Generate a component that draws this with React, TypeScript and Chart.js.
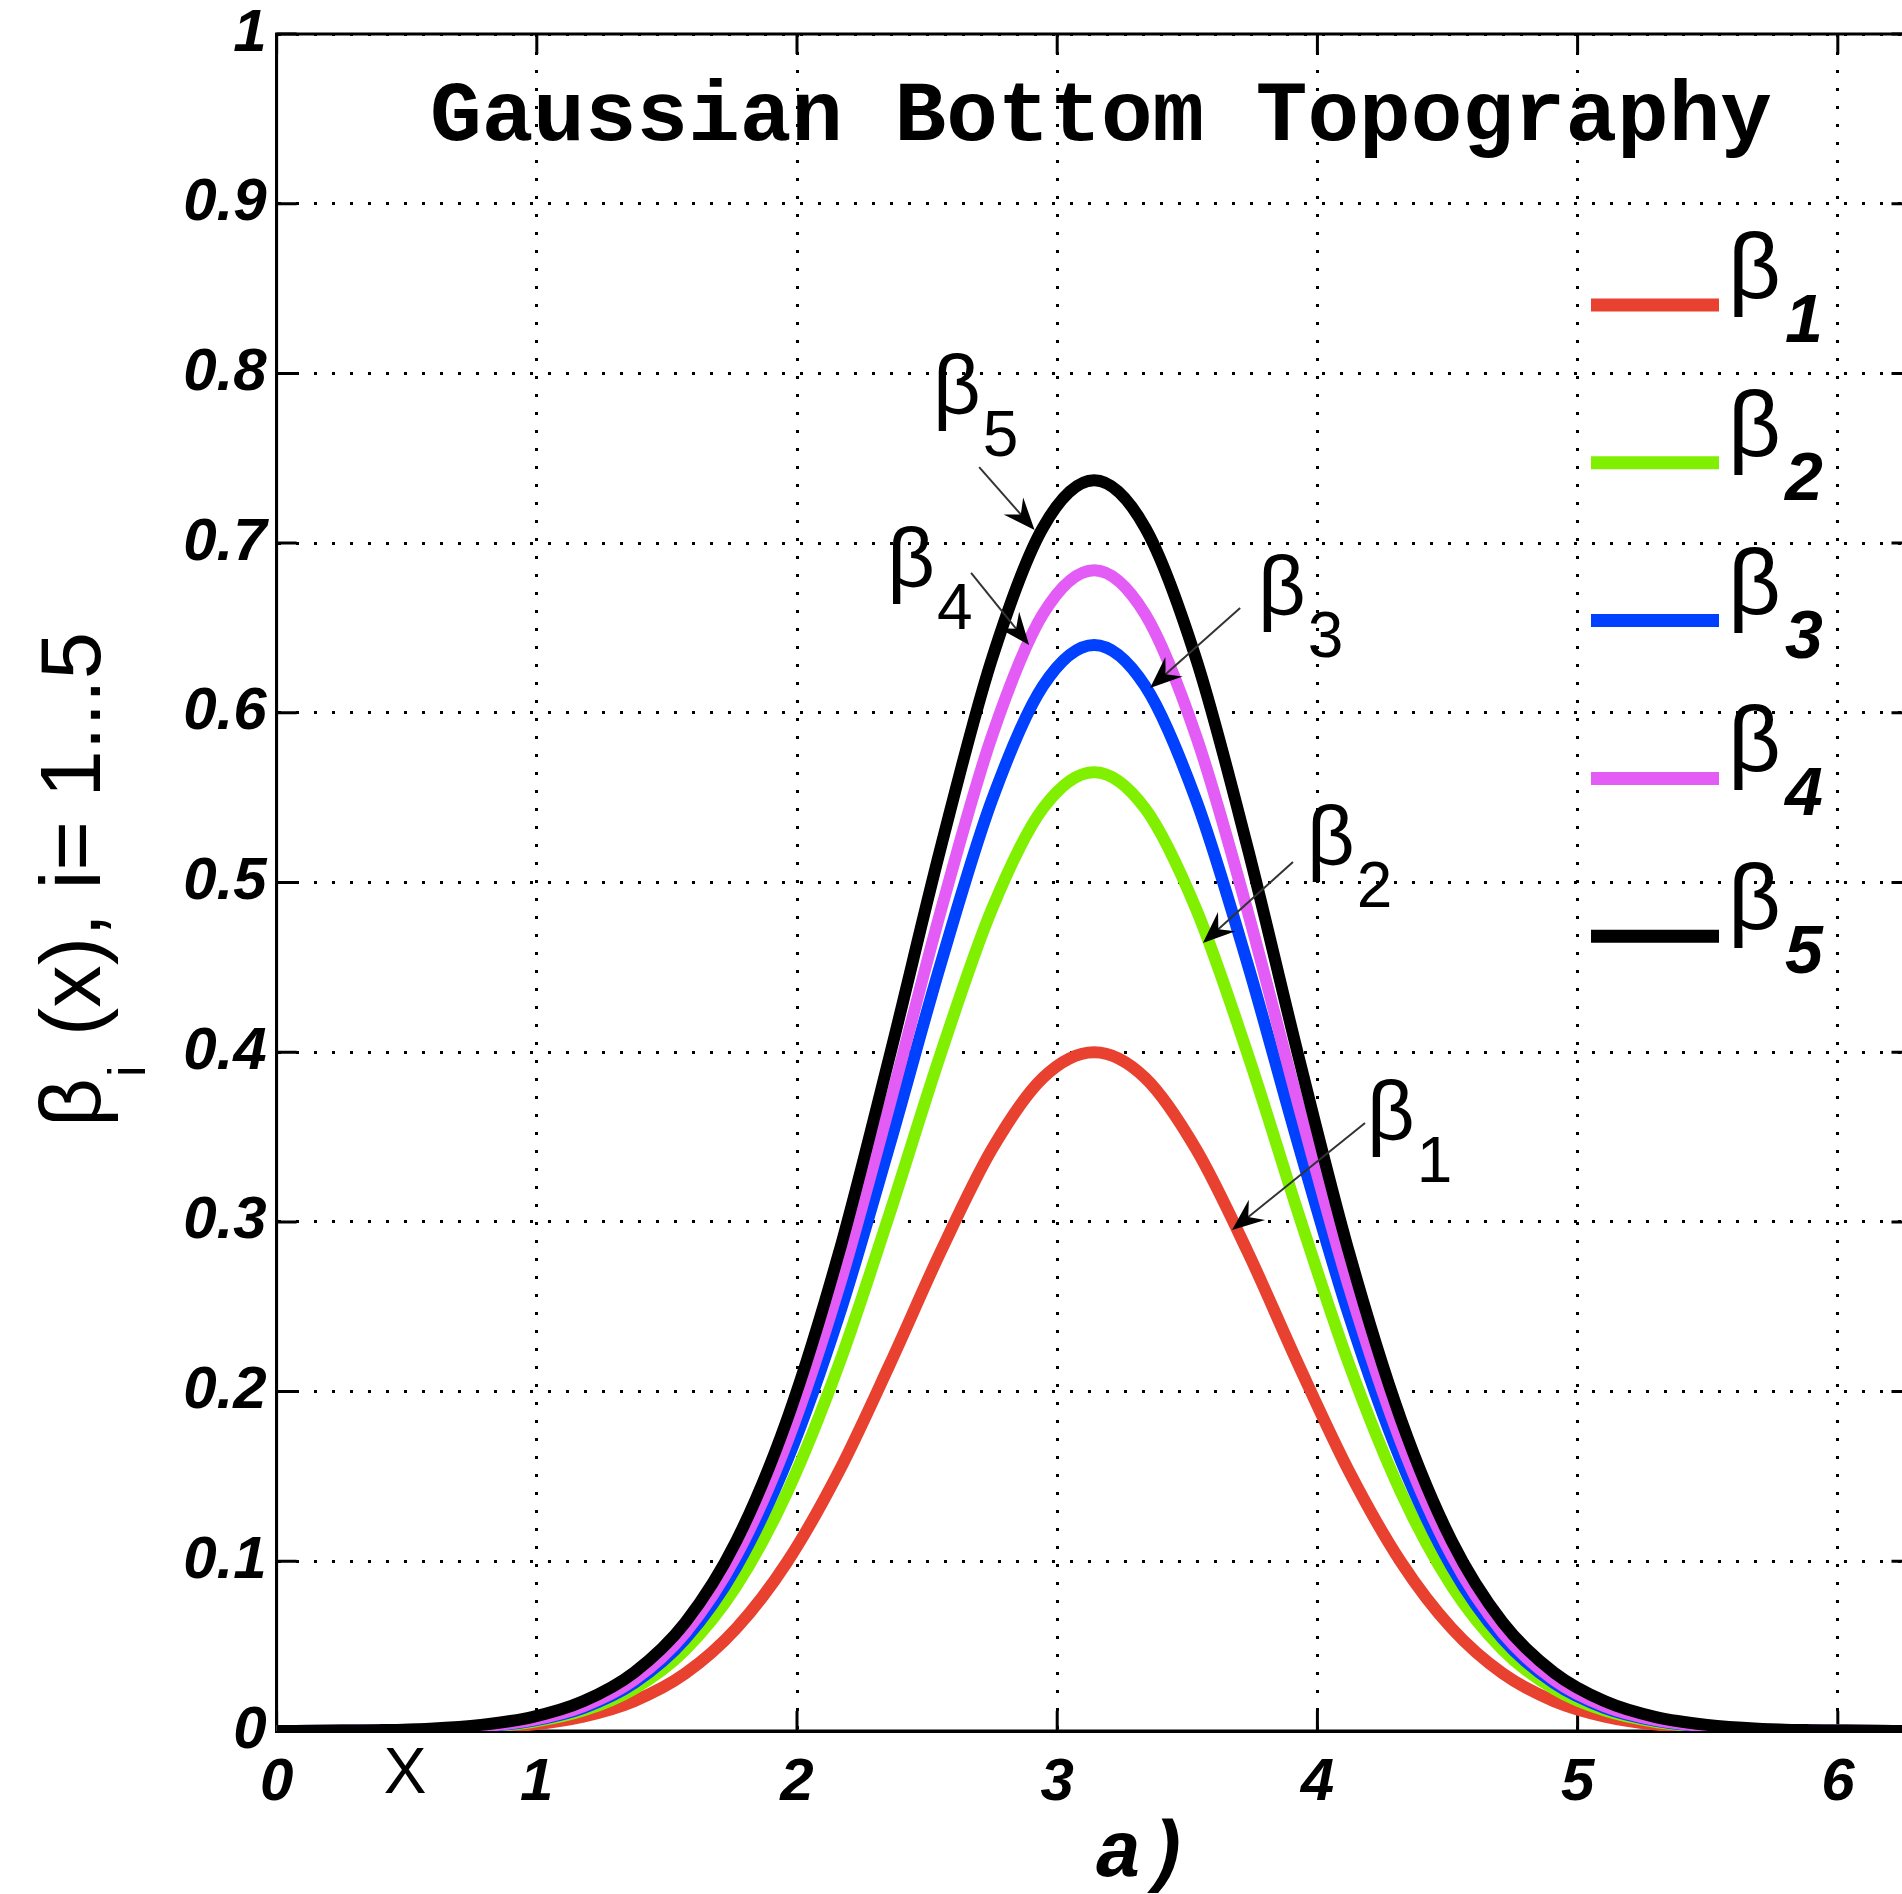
import React, { useEffect, useRef } from 'react';
import { Chart, registerables } from 'chart.js';

Chart.register(...registerables);

// ---------- data ----------
const X_VALUES = [0, 0.196, 0.393, 0.589, 0.785, 0.982, 1.178, 1.374, 1.571, 1.767, 1.963, 2.16, 2.356, 2.553, 2.749, 2.945, 3.142, 3.338, 3.534, 3.731, 3.927, 4.123, 4.32, 4.516, 4.712, 4.909, 5.105, 5.301, 5.498, 5.694, 5.89, 6.087, 6.283];

const BETA_1 = [0, 0.0001, 0.0002, 0.0006, 0.0016, 0.0038, 0.0085, 0.0176, 0.0339, 0.0605, 0.0998, 0.1526, 0.2159, 0.2827, 0.3428, 0.3849, 0.4, 0.3849, 0.3428, 0.2827, 0.2159, 0.1526, 0.0998, 0.0605, 0.0339, 0.0176, 0.0085, 0.0038, 0.0016, 0.0006, 0.0002, 0.0001, 0];
const BETA_2 = [0, 0.0001, 0.0003, 0.0008, 0.0022, 0.0053, 0.012, 0.0249, 0.0479, 0.0854, 0.141, 0.2155, 0.3049, 0.3994, 0.4843, 0.5436, 0.565, 0.5436, 0.4843, 0.3994, 0.3049, 0.2155, 0.141, 0.0854, 0.0479, 0.0249, 0.012, 0.0053, 0.0022, 0.0008, 0.0003, 0.0001, 0];
const BETA_3 = [0, 0.0001, 0.0003, 0.0009, 0.0025, 0.006, 0.0135, 0.0282, 0.0543, 0.0968, 0.1597, 0.2441, 0.3454, 0.4524, 0.5485, 0.6158, 0.64, 0.6158, 0.5485, 0.4524, 0.3454, 0.2441, 0.1597, 0.0968, 0.0543, 0.0282, 0.0135, 0.006, 0.0025, 0.0009, 0.0003, 0.0001, 0];
const BETA_4 = [0, 0.0001, 0.0004, 0.001, 0.0027, 0.0064, 0.0145, 0.0301, 0.058, 0.1034, 0.1707, 0.2609, 0.3691, 0.4835, 0.5862, 0.6581, 0.684, 0.6581, 0.5862, 0.4835, 0.3691, 0.2609, 0.1707, 0.1034, 0.058, 0.0301, 0.0145, 0.0064, 0.0027, 0.001, 0.0004, 0.0001, 0];
const BETA_5 = [0, 0.0002, 0.0005, 0.0014, 0.0036, 0.0082, 0.0175, 0.0345, 0.064, 0.112, 0.184, 0.2811, 0.3977, 0.5209, 0.6317, 0.7091, 0.737, 0.7091, 0.6317, 0.5209, 0.3977, 0.2811, 0.184, 0.112, 0.064, 0.0345, 0.0175, 0.0082, 0.0036, 0.0014, 0.0005, 0.0002, 0];

const SERIES_VALUES = [BETA_1, BETA_2, BETA_3, BETA_4, BETA_5];
const SERIES_SUBSCRIPTS = ['1', '2', '3', '4', '5'];
const SERIES_COLORS = ['#e8412f', '#80f000', '#0040ff', '#e35cf5', '#000000'];

const X_TICKS = [0, 1, 2, 3, 4, 5, 6];
const X_TICK_LABELS = ['0', '1', '2', '3', '4', '5', '6'];
const Y_TICKS = [0, 0.1, 0.2, 0.3, 0.4, 0.5, 0.6, 0.7, 0.8, 0.9, 1];
const Y_TICK_LABELS = ['0', '0.1', '0.2', '0.3', '0.4', '0.5', '0.6', '0.7', '0.8', '0.9', '1'];

const X_MIN = 0;
const X_MAX = 6.2832;
const Y_MIN = 0;
const Y_MAX = 1;

const TITLE_TEXT = 'Gaussian Bottom Topography';
const X_LABEL_TEXT = 'a)';
const X_MARK_TEXT = 'X';
const Y_LABEL_MAIN = 'β';
const Y_LABEL_SUB = 'i';
const Y_LABEL_REST = ' (x), i= 1...5';
const GREEK = 'β';

// annotation anchors (data coordinates)
const ANNOT_SUBS = ['5', '4', '3', '2', '1'];
const ANNOT_TEXT_X = [2.542, 2.366, 3.791, 3.979, 4.21];
const ANNOT_TEXT_Y = [0.776, 0.6741, 0.6576, 0.5103, 0.3483];
const ARROW_FROM_X = [2.7, 2.669, 3.703, 3.906, 4.183];
const ARROW_FROM_Y = [0.7448, 0.6824, 0.6618, 0.5121, 0.3583];
const ARROW_TO_X = [2.913, 2.892, 3.357, 3.56, 3.672];
const ARROW_TO_Y = [0.7077, 0.64, 0.6146, 0.4643, 0.2952];

// ---------- layout / style ----------
const W = 1930;
const H = 1894;
const AREA_LEFT = 276.6;
const AREA_RIGHT = 1911.5;
const AREA_TOP = 34;
const AREA_BOTTOM = 1731;
const SANS = '"Liberation Sans", Arial, sans-serif';
const MONO = '"Liberation Mono", "Courier New", monospace';

function drawArrow(ctx: CanvasRenderingContext2D, x1: number, y1: number, x2: number, y2: number) {
  const ang = Math.atan2(y2 - y1, x2 - x1);
  const L = 32;
  const Wd = 13;
  const c = Math.cos(ang);
  const s = Math.sin(ang);
  ctx.save();
  ctx.strokeStyle = '#333333';
  ctx.lineWidth = 2;
  ctx.beginPath();
  ctx.moveTo(x1, y1);
  ctx.lineTo(x2 - c * L * 0.6, y2 - s * L * 0.6);
  ctx.stroke();
  ctx.fillStyle = '#000000';
  ctx.beginPath();
  ctx.moveTo(x2, y2);
  ctx.lineTo(x2 - c * L - s * Wd, y2 - s * L + c * Wd);
  ctx.lineTo(x2 - c * L * 0.65, y2 - s * L * 0.65);
  ctx.lineTo(x2 - c * L + s * Wd, y2 - s * L - c * Wd);
  ctx.closePath();
  ctx.fill();
  ctx.restore();
}

const overlayPlugin = {
  id: 'overlay',
  beforeDatasetsDraw(chart: any) {
    const { ctx, chartArea: a, scales } = chart;
    const xs = scales.x;
    const ys = scales.y;
    const T = 20;
    ctx.save();
    ctx.setLineDash([]);
    ctx.strokeStyle = '#000';
    ctx.lineWidth = 3;
    ctx.strokeRect(a.left, a.top, a.right - a.left, a.bottom - a.top);
    ctx.beginPath();
    for (const v of X_TICKS) {
      const px = xs.getPixelForValue(v);
      ctx.moveTo(px, a.bottom);
      ctx.lineTo(px, a.bottom - T);
      ctx.moveTo(px, a.top);
      ctx.lineTo(px, a.top + T);
    }
    for (const v of Y_TICKS) {
      const py = ys.getPixelForValue(v);
      ctx.moveTo(a.left, py);
      ctx.lineTo(a.left + T, py);
      ctx.moveTo(a.right, py);
      ctx.lineTo(a.right - T, py);
    }
    ctx.stroke();
    ctx.restore();
  },
  afterDraw(chart: any) {
    const { ctx, chartArea: a, scales } = chart;
    const xs = scales.x;
    const ys = scales.y;
    ctx.save();
    ctx.fillStyle = '#000';
    ctx.textBaseline = 'alphabetic';

    // title
    ctx.textAlign = 'center';
    ctx.font = `bold 86px ${MONO}`;
    ctx.fillText(TITLE_TEXT, a.left + 824.4, a.top + 106);

    // legend
    ctx.textAlign = 'left';
    for (let i = 0; i < SERIES_VALUES.length; i++) {
      const y = a.top + 271 + i * 157.8;
      ctx.strokeStyle = SERIES_COLORS[i];
      ctx.lineWidth = 13;
      ctx.lineCap = 'butt';
      ctx.beginPath();
      ctx.moveTo(a.left + 1314.4, y);
      ctx.lineTo(a.left + 1442.4, y);
      ctx.stroke();
      const tx = a.left + 1451.4;
      const ty = y - 7;
      ctx.font = `92px ${SANS}`;
      ctx.fillText(GREEK, tx, ty);
      const bw = ctx.measureText(GREEK).width;
      ctx.font = `italic bold 68px ${SANS}`;
      ctx.fillText(SERIES_SUBSCRIPTS[i], tx + bw + 4, ty + 44);
    }

    // annotations
    for (let i = 0; i < ANNOT_SUBS.length; i++) {
      drawArrow(
        ctx,
        xs.getPixelForValue(ARROW_FROM_X[i]),
        ys.getPixelForValue(ARROW_FROM_Y[i]),
        xs.getPixelForValue(ARROW_TO_X[i]),
        ys.getPixelForValue(ARROW_TO_Y[i])
      );
      const tx = xs.getPixelForValue(ANNOT_TEXT_X[i]) - 5;
      const ty = ys.getPixelForValue(ANNOT_TEXT_Y[i]);
      ctx.fillStyle = '#000';
      ctx.font = `83px ${SANS}`;
      ctx.fillText(GREEK, tx, ty);
      const bw = ctx.measureText(GREEK).width;
      ctx.font = `64px ${SANS}`;
      ctx.fillText(ANNOT_SUBS[i], tx + bw + 2, ty + 42);
    }

    // X mark under axis
    ctx.textAlign = 'center';
    ctx.font = `64px ${SANS}`;
    ctx.fillText(X_MARK_TEXT, a.left + 128.4, a.bottom + 62);

    // x label
    ctx.textAlign = 'left';
    ctx.font = `italic bold 80px ${MONO}`;
    ctx.fillText(X_LABEL_TEXT, a.left + 818, a.bottom + 145);

    // y label (rotated)
    ctx.translate(100, 1127);
    ctx.rotate(-Math.PI / 2);
    ctx.textAlign = 'left';
    ctx.font = `85px ${SANS}`;
    ctx.fillText(Y_LABEL_MAIN, 0, 0);
    let s = ctx.measureText(Y_LABEL_MAIN).width;
    ctx.font = `52px ${SANS}`;
    ctx.fillText(Y_LABEL_SUB, s + 1, 45);
    s += ctx.measureText(Y_LABEL_SUB).width + 7;
    ctx.font = `85px ${SANS}`;
    ctx.fillText(Y_LABEL_REST, s, 0);

    ctx.restore();
  },
};

export default function App() {
  const ref = useRef<HTMLCanvasElement>(null);

  useEffect(() => {
    const canvas = ref.current;
    if (!canvas) return;
    const datasets = SERIES_VALUES.map((vals, i) => ({
      label: GREEK + SERIES_SUBSCRIPTS[i],
      data: X_VALUES.map((x, k) => ({ x, y: vals[k] })),
      borderColor: SERIES_COLORS[i],
      backgroundColor: SERIES_COLORS[i],
      borderWidth: 12,
      pointRadius: 0,
      fill: false,
      cubicInterpolationMode: 'monotone' as const,
      borderJoinStyle: 'round' as const,
      order: SERIES_VALUES.length - i,
    }));

    const chart = new Chart(canvas, {
      type: 'line',
      data: { datasets },
      plugins: [overlayPlugin],
      options: {
        animation: false,
        responsive: false,
        maintainAspectRatio: false,
        devicePixelRatio: 1,
        layout: {
          padding: { left: 0, top: AREA_TOP, right: W - AREA_RIGHT, bottom: 0 },
        },
        plugins: {
          legend: { display: false },
          tooltip: { enabled: false },
          title: { display: false },
        },
        scales: {
          x: {
            type: 'linear',
            min: X_MIN,
            max: X_MAX,
            afterBuildTicks: (scale: any) => {
              scale.ticks = X_TICKS.map((v) => ({ value: v }));
            },
            afterFit: (scale: any) => {
              scale.height = H - AREA_BOTTOM;
              scale.paddingLeft = 0;
              scale.paddingRight = 0;
            },
            grid: { color: '#000', lineWidth: 3, drawTicks: false },
            border: { display: true, color: '#000', width: 3, dash: [3, 15] },
            ticks: {
              autoSkip: false,
              maxRotation: 0,
              padding: 16,
              color: '#000',
              font: { family: SANS, size: 60, style: 'italic', weight: 'bold' },
              callback: (_v: any, i: number) => X_TICK_LABELS[i],
            },
          },
          y: {
            type: 'linear',
            min: Y_MIN,
            max: Y_MAX,
            afterBuildTicks: (scale: any) => {
              scale.ticks = Y_TICKS.map((v) => ({ value: v }));
            },
            afterFit: (scale: any) => {
              scale.width = AREA_LEFT;
              scale.paddingTop = 0;
              scale.paddingBottom = 0;
            },
            grid: { color: '#000', lineWidth: 3, drawTicks: false },
            border: { display: true, color: '#000', width: 3, dash: [3, 15] },
            ticks: {
              autoSkip: false,
              padding: 10,
              color: '#000',
              font: { family: SANS, size: 60, style: 'italic', weight: 'bold' },
              callback: (_v: any, i: number) => Y_TICK_LABELS[i],
            },
          },
        },
      },
    } as any);

    return () => chart.destroy();
  }, []);

  return (
    <div
      style={{
        position: 'fixed',
        left: 0,
        top: 0,
        width: '1902px',
        height: '1894px',
        overflow: 'hidden',
        background: '#ffffff',
      }}
    >
      <canvas ref={ref} width={W} height={H} style={{ display: 'block', width: `${W}px`, height: `${H}px` }} />
    </div>
  );
}
